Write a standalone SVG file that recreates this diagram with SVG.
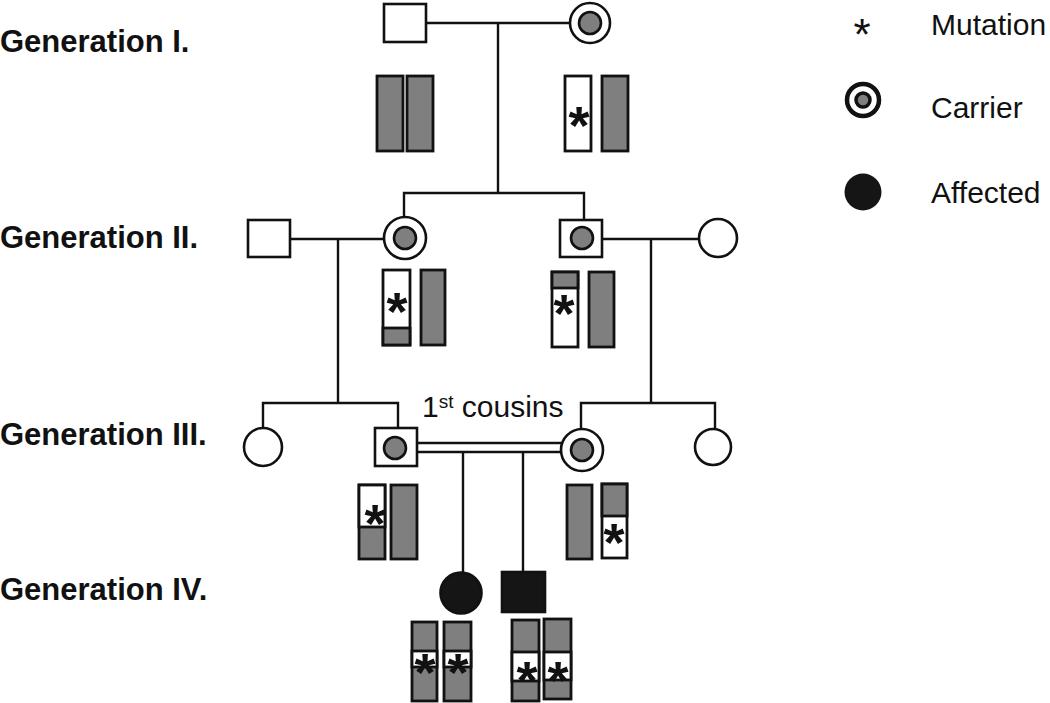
<svg xmlns="http://www.w3.org/2000/svg" width="1050" height="703" viewBox="0 0 1050 703">
<style>
.bg{fill:#fff}
.ln{stroke:#111;stroke-width:2.4;fill:none}
.sym{fill:#fff;stroke:#111;stroke-width:2.6}
.dot{fill:#7f7f7f;stroke:#111;stroke-width:2.6}
.aff{fill:#151515;stroke:#111;stroke-width:2.6}
.g{fill:#7f7f7f;stroke:#111;stroke-width:2.8}
.w{fill:#fff;stroke:#111;stroke-width:2.8}
.ast{font-family:"Liberation Sans",Arial,sans-serif;font-weight:bold;font-size:54px;text-anchor:middle;fill:#111}
.gen{font-family:"Liberation Sans",Arial,sans-serif;font-weight:bold;font-size:31px;fill:#111}
.lab{font-family:"Liberation Sans",Arial,sans-serif;font-size:30px;fill:#111}
</style>
<rect class="bg" x="0" y="0" width="1050" height="703"/>

<g id="labels">
<text class="gen" x="0" y="52">Generation I.</text>
<text class="gen" x="0" y="248">Generation II.</text>
<text class="gen" x="0" y="445">Generation III.</text>
<text class="gen" x="0" y="600">Generation IV.</text>
<text class="lab" x="422" y="417">1<tspan font-size="19" dy="-9">st</tspan><tspan dy="9"> cousins</tspan></text>
</g>

<g id="connectors">
<line class="ln" x1="426" y1="23" x2="570" y2="23"/>
<line class="ln" x1="498" y1="23" x2="498" y2="193"/>
<polyline class="ln" points="404,218 404,193 584,193 584,220"/>
<line class="ln" x1="290" y1="239" x2="384" y2="239"/>
<line class="ln" x1="338" y1="239" x2="338" y2="403"/>
<line class="ln" x1="602" y1="239" x2="699" y2="239"/>
<line class="ln" x1="651" y1="239" x2="651" y2="403"/>
<polyline class="ln" points="263,428 263,403 398,403 398,428"/>
<polyline class="ln" points="581,430 581,403 715,403 715,429"/>
<line class="ln" x1="417" y1="443" x2="562" y2="443"/>
<line class="ln" x1="417" y1="452" x2="562" y2="452"/>
<line class="ln" x1="463" y1="452" x2="463" y2="573"/>
<line class="ln" x1="523" y1="452" x2="523" y2="572"/>
</g>

<g id="I-1"><rect class="sym" x="384" y="4" width="42" height="38"/></g>
<g id="I-2"><circle class="sym" cx="590" cy="23" r="20"/><circle class="dot" cx="590" cy="23" r="11"/></g>
<g id="II-1"><rect class="sym" x="248" y="220" width="42" height="37"/></g>
<g id="II-2"><circle class="sym" cx="405" cy="238" r="21"/><circle class="dot" cx="405" cy="238" r="11"/></g>
<g id="II-3"><rect class="sym" x="560" y="220" width="42" height="37"/><circle class="dot" cx="582" cy="238" r="11"/></g>
<g id="II-4"><circle class="sym" cx="718" cy="238" r="19"/></g>
<g id="III-1"><circle class="sym" cx="263" cy="447" r="19"/></g>
<g id="III-2"><rect class="sym" x="375" y="428" width="42" height="38"/><circle class="dot" cx="395" cy="448" r="11"/></g>
<g id="III-3"><circle class="sym" cx="582" cy="450" r="21"/><circle class="dot" cx="582" cy="450" r="11"/></g>
<g id="III-4"><circle class="sym" cx="713" cy="447" r="18"/></g>
<g id="IV-1"><circle class="aff" cx="461" cy="593" r="20.5"/></g>
<g id="IV-2"><rect class="aff" x="502" y="572" width="43" height="40"/></g>

<g id="chromosomes-I">
<rect class="g" x="377" y="76" width="26" height="75"/>
<rect class="g" x="407" y="76" width="26" height="75"/>
<rect class="w" x="565" y="76" width="26" height="75"/>
<text class="ast" x="579" y="144">*</text>
<rect class="g" x="602" y="76" width="26" height="75"/>
</g>

<g id="chromosomes-II">
<rect class="w" x="383" y="270" width="27" height="75"/>
<rect class="g" x="383" y="328" width="27" height="17"/>
<text class="ast" x="397" y="330">*</text>
<rect class="g" x="421" y="270" width="24" height="75"/>
<rect class="w" x="552" y="272" width="26" height="75"/>
<rect class="g" x="552" y="272" width="26" height="16"/>
<text class="ast" x="564" y="332">*</text>
<rect class="g" x="589" y="272" width="25" height="75"/>
</g>

<g id="chromosomes-III">
<rect class="g" x="359" y="485" width="26" height="74"/>
<rect class="w" x="359" y="485" width="26" height="42"/>
<text class="ast" x="375" y="542">*</text>
<rect class="g" x="391" y="485" width="26" height="74"/>
<rect class="g" x="567" y="485" width="25" height="74"/>
<rect class="w" x="602" y="484" width="25" height="74"/>
<rect class="g" x="602" y="484" width="25" height="32"/>
<text class="ast" x="614" y="561">*</text>
</g>

<g id="chromosomes-IV">
<rect class="g" x="412" y="622" width="25" height="79"/>
<rect class="w" x="412" y="651" width="25" height="16"/>
<text class="ast" x="425" y="691">*</text>
<rect class="g" x="444" y="622" width="27" height="79"/>
<rect class="w" x="444" y="651" width="27" height="16"/>
<text class="ast" x="458" y="691">*</text>
<rect class="g" x="512" y="620" width="27" height="81"/>
<rect class="w" x="512" y="652" width="27" height="29"/>
<text class="ast" x="527" y="699">*</text>
<rect class="g" x="544" y="619" width="27" height="80"/>
<rect class="w" x="544" y="652" width="27" height="28"/>
<text class="ast" x="558" y="699">*</text>
</g>

<g id="legend">
<text x="862" y="50" style="font-family:'Liberation Sans',Arial,sans-serif;font-size:44px;text-anchor:middle;fill:#111">*</text>
<text class="lab" x="931" y="35">Mutation</text>
<circle cx="863" cy="100" r="16" fill="#fff" stroke="#111" stroke-width="4.5"/>
<circle cx="863" cy="100" r="7" fill="#7f7f7f" stroke="#111" stroke-width="3.5"/>
<text class="lab" x="931" y="118">Carrier</text>
<circle cx="863" cy="192" r="18.5" fill="#151515"/>
<text class="lab" x="931" y="203">Affected</text>
</g>
</svg>
